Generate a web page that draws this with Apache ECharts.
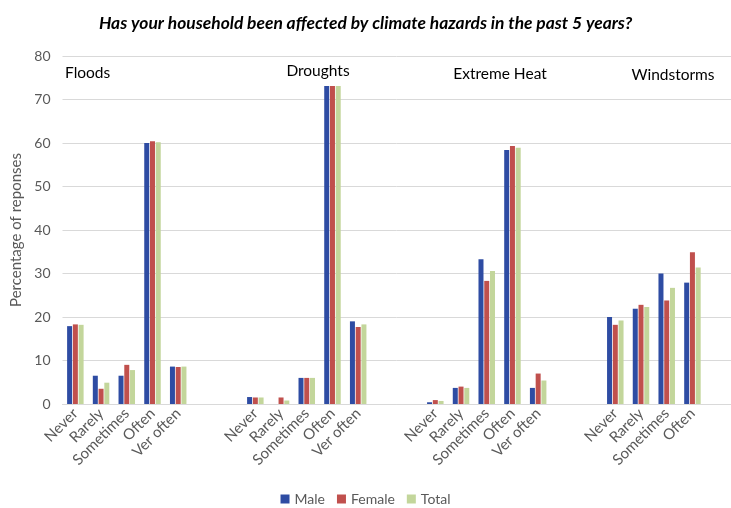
<!DOCTYPE html>
<html>
<head>
<meta charset="utf-8">
<script src="https://cdn.jsdelivr.net/npm/echarts@6/dist/echarts.min.js"></script>
<style>html,body{margin:0;padding:0;background:#fff;}#c{width:731px;height:508px;}</style>
</head>
<body>
<div id="c"></div>
<script>
// ---- data ----
const hazards = ['Floods', 'Droughts', 'Extreme Heat', 'Windstorms'];
const floodsCats = ['Never', 'Rarely', 'Sometimes', 'Often', 'Ver often'];
const droughtsCats = ['Never', 'Rarely', 'Sometimes', 'Often', 'Ver often'];
const heatCats = ['Never', 'Rarely', 'Sometimes', 'Often', 'Ver often'];
const windCats = ['Never', 'Rarely', 'Sometimes', 'Often'];

const maleFloods = [17.9, 6.5, 6.5, 60.0, 8.6];
const femaleFloods = [18.3, 3.5, 9.0, 60.4, 8.5];
const totalFloods = [18.2, 4.9, 7.8, 60.2, 8.6];

const maleDroughts = [1.6, 0, 6.0, 73.1, 19.0];
const femaleDroughts = [1.5, 1.5, 6.0, 73.1, 17.7];
const totalDroughts = [1.5, 0.8, 6.0, 73.1, 18.3];

const maleHeat = [0.4, 3.7, 33.3, 58.4, 3.7];
const femaleHeat = [0.9, 4.0, 28.3, 59.3, 7.0];
const totalHeat = [0.7, 3.7, 30.6, 58.9, 5.4];

const maleWind = [20.0, 21.9, 30.0, 27.9];
const femaleWind = [18.2, 22.8, 23.8, 34.9];
const totalWind = [19.2, 22.3, 26.7, 31.4];

const yTicks = [0, 10, 20, 30, 40, 50, 60, 70, 80];

// ---- build combined category axis with blank spacer slots ----
const GAP = 2;
function join(parts, filler) {
  let out = [];
  parts.forEach((p, i) => {
    out = out.concat(p);
    if (i < parts.length - 1) for (let k = 0; k < GAP; k++) out.push(filler);
  });
  out.push(filler); // trailing spacer
  return out;
}
const categories = join([floodsCats, droughtsCats, heatCats, windCats], '');
const maleData = join([maleFloods, maleDroughts, maleHeat, maleWind], null);
const femaleData = join([femaleFloods, femaleDroughts, femaleHeat, femaleWind], null);
const totalData = join([totalFloods, totalDroughts, totalHeat, totalWind], null);

const FONT = 'Lato, "Open Sans", sans-serif';
const chart = echarts.init(document.getElementById('c'), null, {renderer: 'canvas'});

function barSeries(name, data, color) {
  return {
    name, type: 'bar', data, barWidth: 5, barGap: '15%',
    itemStyle: {color}, emphasis: {disabled: true}
  };
}

chart.setOption({
  animation: false,
  title: {
    text: 'Has your household been affected by climate hazards in the past 5 years?',
    left: 'center', top: 10,
    textStyle: {fontFamily: FONT, fontSize: 17.4, fontWeight: 'bold', fontStyle: 'italic', color: '#000'}
  },
  grid: {left: 62.5, right: -7.5, top: 56, bottom: 104},
  legend: {
    bottom: -3, left: 'center', itemWidth: 9, itemHeight: 9, itemGap: 12,
    icon: 'rect',
    textStyle: {fontFamily: FONT, fontSize: 14, color: '#595959'},
    data: ['Male', 'Female', 'Total']
  },
  xAxis: {
    type: 'category', data: categories,
    axisLine: {lineStyle: {color: '#d9d9d9', width: 1}},
    axisTick: {show: false},
    axisLabel: {interval: 0, rotate: 45, fontFamily: FONT, fontSize: 15, color: '#595959', margin: 7}
  },
  yAxis: {
    type: 'value', min: yTicks[0], max: yTicks[yTicks.length - 1], interval: yTicks[1] - yTicks[0],
    name: 'Percentage of reponses', nameLocation: 'middle', nameGap: 37,
    nameTextStyle: {fontFamily: FONT, fontSize: 15, color: '#595959'},
    axisLabel: {fontFamily: FONT, fontSize: 14, color: '#595959', margin: 12},
    axisLine: {show: false}, axisTick: {show: false},
    splitLine: {lineStyle: {color: '#d9d9d9', width: 1}}
  },
  graphic: [
    {type: 'text', x: 65, y: 73, style: {text: hazards[0], font: '15.5px ' + FONT, fill: '#000', align: 'left', verticalAlign: 'middle'}},
    {type: 'text', x: 318, y: 71, style: {text: hazards[1], font: '15.5px ' + FONT, fill: '#000', align: 'center', verticalAlign: 'middle'}},
    {type: 'text', x: 500, y: 74, style: {text: hazards[2], font: '15.5px ' + FONT, fill: '#000', align: 'center', verticalAlign: 'middle'}},
    {type: 'text', x: 673, y: 75, style: {text: hazards[3], font: '15.5px ' + FONT, fill: '#000', align: 'center', verticalAlign: 'middle'}}
  ],
  series: [
    barSeries('Male', maleData, '#2E4CA3'),
    barSeries('Female', femaleData, '#C0504D'),
    barSeries('Total', totalData, '#C3D69B')
  ]
});
</script>
</body>
</html>
